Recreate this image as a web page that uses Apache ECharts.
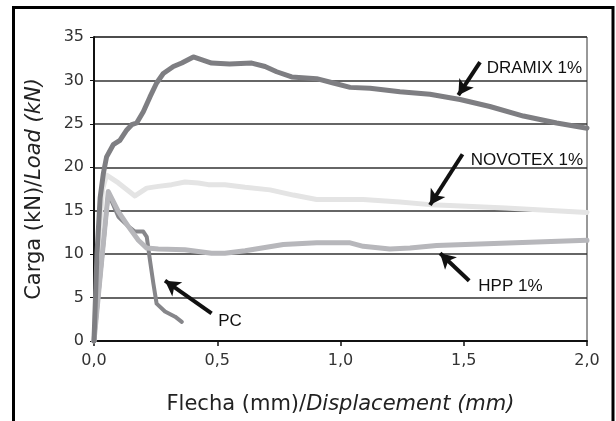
<!DOCTYPE html>
<html>
<head>
<meta charset="utf-8">
<script src="https://cdn.jsdelivr.net/npm/echarts@6/dist/echarts.min.js"></script>
<style>
  html, body { margin: 0; padding: 0; background: #fff; }
  #chart { width: 616px; height: 421px; }
</style>
</head>
<body>
<div id="chart"></div>
<script>
// load vs displacement
const xTicks = [0, 0.5, 1.0, 1.5, 2.0];
const yTicks = [0, 5, 10, 15, 20, 25, 30, 35];

const dramixX = [0, 0.012, 0.025, 0.038, 0.051, 0.078, 0.105, 0.133, 0.153, 0.173, 0.2, 0.227, 0.254, 0.281, 0.322, 0.356, 0.403, 0.477, 0.55, 0.64, 0.694, 0.741, 0.802, 0.903, 0.971, 1.039, 1.12, 1.241, 1.363, 1.444, 1.485, 1.606, 1.742, 1.877, 2.0];
const dramixY = [0, 10, 16.5, 19.3, 21.2, 22.6, 23.1, 24.3, 24.9, 25.1, 26.4, 28.1, 29.7, 30.8, 31.6, 32.0, 32.7, 32.0, 31.9, 32.0, 31.6, 31.0, 30.4, 30.2, 29.7, 29.2, 29.1, 28.7, 28.4, 28.0, 27.8, 27.0, 25.9, 25.1, 24.5];

const novotexX = [0, 0.02, 0.035, 0.051, 0.099, 0.166, 0.214, 0.261, 0.315, 0.369, 0.423, 0.464, 0.531, 0.613, 0.714, 0.809, 0.903, 1.092, 1.241, 1.363, 1.444, 1.67, 2.0];
const novotexY = [0, 12, 17.5, 19.1, 18.2, 16.7, 17.6, 17.8, 18.0, 18.3, 18.2, 18.0, 18.0, 17.7, 17.4, 16.8, 16.3, 16.3, 16.0, 15.7, 15.6, 15.3, 14.8];

const hppX = [0, 0.058, 0.099, 0.139, 0.18, 0.214, 0.261, 0.369, 0.477, 0.531, 0.613, 0.768, 0.903, 1.039, 1.092, 1.2, 1.282, 1.39, 2.0];
const hppY = [0, 17.2, 14.9, 13.2, 11.6, 10.7, 10.6, 10.5, 10.1, 10.1, 10.4, 11.1, 11.3, 11.3, 10.9, 10.6, 10.7, 11.0, 11.6];

const pcX = [0, 0.058, 0.065, 0.099, 0.139, 0.166, 0.2, 0.214, 0.227, 0.241, 0.254, 0.288, 0.329, 0.356];
const pcY = [0, 17.0, 16.8, 14.3, 13.2, 12.6, 12.6, 12.0, 9.3, 6.6, 4.3, 3.4, 2.8, 2.2];

// annotation labels and arrows (data coords)
const labelNames = ['DRAMIX 1%', 'NOVOTEX 1%', 'HPP 1%', 'PC'];
const labelPos = [[1.593, 31.4], [1.528, 20.8], [1.559, 6.25], [0.504, 2.3]];
const arrowFrom = [[1.566, 32.1], [1.495, 21.5], [1.522, 6.94], [0.477, 3.19]];
const arrowTo = [[1.478, 28.3], [1.363, 15.66], [1.404, 10.1], [0.288, 6.94]];

const zip = (xs, ys) => xs.map((x, i) => [x, ys[i]]);
const fmt = v => v.toFixed(1).replace('.', ',');

const chart = echarts.init(document.getElementById('chart'));

function curve(name, xs, ys, color, width) {
    return {
        name: name,
        type: 'line',
        data: zip(xs, ys),
        showSymbol: false,
        symbol: 'none',
        silent: true,
        lineStyle: { color: color, width: width, cap: 'round', join: 'round' },
    };
}

const titleRich = {
    n: { fontFamily: 'DejaVu Sans', fontSize: 21, color: '#222' },
    i: { fontFamily: 'DejaVu Sans', fontSize: 21, fontStyle: 'italic', color: '#222' },
};

const option = {
    animation: false,
    backgroundColor: '#fff',
    grid: {
        left: 94, right: 29, top: 37, bottom: 80,
        show: true, borderColor: '#333', borderWidth: 1, backgroundColor: 'transparent',
    },
    xAxis: {
        type: 'value',
        min: 0, max: 2, interval: 0.5,
        name: '{n|Flecha (mm)/}{i|Displacement (mm)}',
        nameLocation: 'middle',
        nameGap: 53,
        nameTextStyle: { rich: titleRich },
        axisLine: { show: true, lineStyle: { color: '#111', width: 2 } },
        axisTick: { show: true, length: 5, lineStyle: { color: '#111', width: 1.5 } },
        axisLabel: {
            fontFamily: 'DejaVu Sans', fontSize: 16, color: '#333', margin: 12,
            formatter: v => xTicks.includes(v) ? fmt(v) : '',
        },
        splitLine: { show: false },
    },
    yAxis: {
        type: 'value',
        min: 0, max: 35, interval: 5,
        name: '{n|Carga (kN)/}{i|Load (kN)}',
        nameLocation: 'middle',
        nameGap: 49,
        nameTextStyle: { rich: titleRich },
        axisLine: { show: true, lineStyle: { color: '#111', width: 2 } },
        axisTick: { show: true, length: 4, lineStyle: { color: '#111', width: 1 } },
        axisLabel: {
            fontFamily: 'DejaVu Sans', fontSize: 16, color: '#333', margin: 10,
            formatter: v => yTicks.includes(v) ? String(v) : '',
        },
        splitLine: { show: true, lineStyle: { color: '#333', width: 1.5 } },
    },
    graphic: [
        {
            type: 'rect',
            shape: { x: 13.5, y: 7.5, width: 599.5, height: 430 },
            style: { fill: 'none', stroke: '#000', lineWidth: 3 },
            silent: true,
        },
    ],
    series: [
        curve('PC', pcX, pcY, '#86868a', 4),
        curve('NOVOTEX 1%', novotexX, novotexY, '#e4e4e4', 5),
        curve('HPP 1%', hppX, hppY, '#b7b7bb', 5),
        curve('DRAMIX 1%', dramixX, dramixY, '#7e7e82', 5),
        {
            name: 'annot',
            type: 'line',
            data: [],
            silent: true,
            markLine: {
                silent: true,
                animation: false,
                symbol: ['none', 'arrow'],
                symbolSize: [13, 15],
                label: { show: false },
                lineStyle: { color: '#111', width: 4, type: 'solid' },
                emphasis: { disabled: true },
                data: arrowFrom.map((p, i) => [{ coord: p }, { coord: arrowTo[i] }]),
            },
            markPoint: {
                silent: true,
                animation: false,
                symbol: 'circle',
                symbolSize: 0,
                label: {
                    show: true,
                    position: 'right',
                    distance: 0,
                    fontFamily: 'Liberation Sans',
                    fontSize: 17,
                    color: '#111',
                    formatter: p => p.name,
                },
                data: labelNames.map((n, i) => ({ name: n, coord: labelPos[i] })),
            },
        },
    ],
};

chart.setOption(option);
</script>
</body>
</html>
